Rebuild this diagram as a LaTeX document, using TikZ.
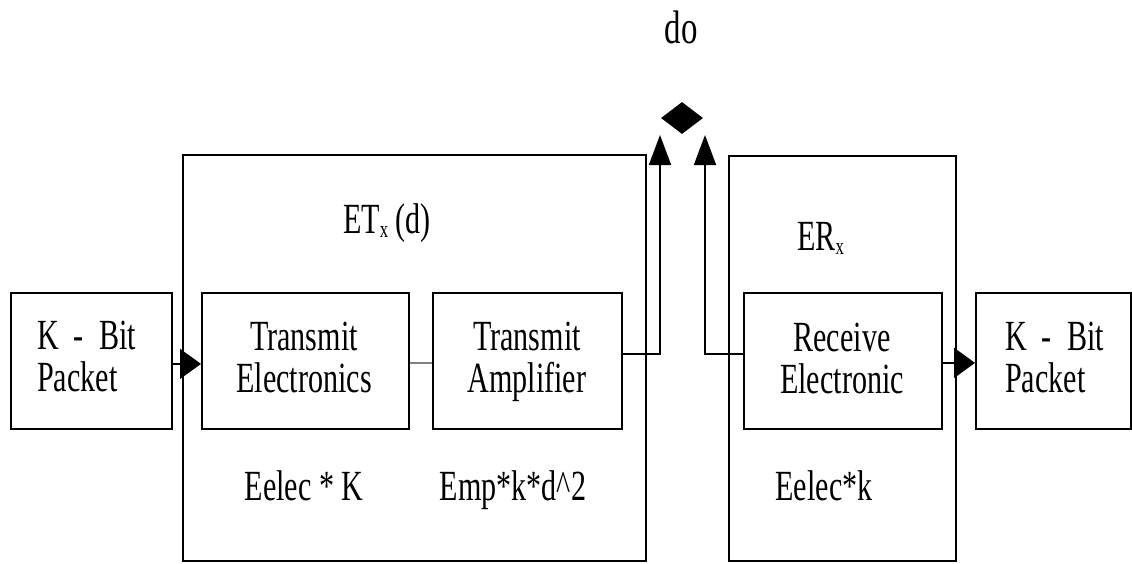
\documentclass[tikz,border=0pt]{standalone}
\usepackage{fontspec}
\setmainfont{Liberation Serif}
\usepackage{graphicx}
\usetikzlibrary{arrows.meta,shapes.geometric}
\newcommand{\sq}[1]{\scalebox{0.7}[1]{#1}}
\newcommand{\subx}{\raisebox{-4pt}{\fontsize{24}{24}\selectfont x}}
\begin{document}
\begin{tikzpicture}[x=1pt,y=-1pt,
 box/.style={draw, line width=1.8pt, anchor=north west, inner sep=0pt},
 lbl/.style={font=\fontsize{43}{42}\selectfont, inner sep=0pt, anchor=base, align=center},
 conn/.style={line width=1.8pt},
 harrow/.style={-{Triangle[length=21pt,width=30pt]}},
 varrow/.style={-{Triangle[length=30pt,width=22pt]}}]
\useasboundingbox (0,0) rectangle (1132,563);
% outer boxes
\node[box, minimum width=463pt, minimum height=406pt] (et) at (182,154) {};
\node[box, minimum width=227pt, minimum height=405pt] (er) at (728,155) {};
% inner boxes
\node[box, minimum width=161pt, minimum height=136pt] (lp) at (10,292) {};
\node[box, minimum width=207pt, minimum height=136pt] (te) at (201,292) {};
\node[box, minimum width=189pt, minimum height=136pt] (ta) at (432,292) {};
\node[box, minimum width=198pt, minimum height=136pt] (re) at (743,292) {};
\node[box, minimum width=155pt, minimum height=136pt] (rp) at (975,292) {};
% diamond
\node[diamond, fill=black, minimum width=42pt, minimum height=32pt, inner sep=0pt] (dia) at (682,118) {};
\coordinate (up1) at (660,135);
\coordinate (up2) at (705,135);
% connectors
\draw[conn,harrow] ([yshift=-3pt]lp.east) -- ([yshift=-3pt]te.west);
\draw[line width=1.6pt, gray] ([yshift=-2pt]te.east) -- ([yshift=-2pt]ta.west);
\draw[conn,varrow] ([yshift=7pt]ta.east) -| (up1);
\draw[conn,varrow] ([yshift=7pt]re.west) -| (up2);
\draw[conn,harrow] ([yshift=-2pt]re.east) -- ([yshift=-2pt]rp.west);
% texts
\node[lbl] (do) at (681,43) {\fontsize{47}{47}\selectfont\sq{do}};
\node[lbl, anchor=base west] (etl) at (343,233) {\sq{ET\subx\ (d)}};
\node[lbl, anchor=base west] (erl) at (797,250) {\sq{ER\subx}};
\node[lbl, anchor=base west, align=left] (lpt) at (37,391) {\sq{K\ \ -\ \ Bit}\\\sq{Packet}};
\node[lbl] (tet) at (304,392) {\sq{Transmit}\\\sq{Electronics}};
\node[lbl] (tat) at (527,392) {\sq{Transmit}\\\sq{Amplifier}};
\node[lbl] (ret) at (842,393) {\sq{Receive}\\\sq{Electronic}};
\node[lbl, anchor=base west, align=left] (rpt) at (1005,392) {\sq{K\ \ -\ \ Bit}\\\sq{Packet}};
\node[lbl] (e1) at (304,500) {\sq{Eelec * K}};
\node[lbl] (e2) at (513,500) {\sq{Emp*k*d\textasciicircum 2}};
\node[lbl] (e3) at (824,500) {\sq{Eelec*k}};
\end{tikzpicture}
\end{document}
